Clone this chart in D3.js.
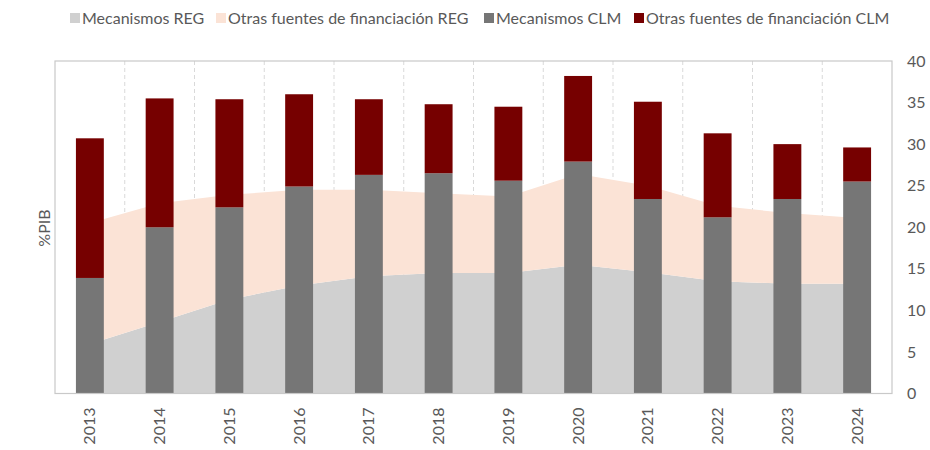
<!DOCTYPE html>
<html lang="es">
<head>
<meta charset="utf-8">
<title>Financiación REG / CLM</title>
<script src="https://cdn.jsdelivr.net/npm/d3@7"></script>
<style>
  body { margin: 0; background: #fff; }
  text { font-family: Lato, "Open Sans", sans-serif; fill: #595959; }
</style>
</head>
<body>
<div id="grafico"></div>
<script>
// datos (% PIB)
var years = ["2013","2014","2015","2016","2017","2018","2019","2020","2021","2022","2023","2024"];
var mecREG   = [5.95, 8.6, 11.3, 13.0, 14.1, 14.5, 14.5, 15.5, 14.6, 13.5, 13.2, 13.2];
var otrasREG = [14.55, 14.3, 12.6, 11.5, 10.4, 9.6, 9.2, 10.9, 10.4, 9.1, 8.5, 7.9];
var mecCLM   = [13.9, 20.0, 22.4, 24.9, 26.3, 26.5, 25.6, 27.9, 23.4, 21.2, 23.4, 25.5];
var otrasCLM = [16.8, 15.5, 13.0, 11.1, 9.1, 8.3, 8.9, 10.3, 11.7, 10.1, 6.6, 4.1];
var yTicks = [0, 5, 10, 15, 20, 25, 30, 35, 40];

var seriesNames = ["Mecanismos REG", "Otras fuentes de financiación REG", "Mecanismos CLM", "Otras fuentes de financiación CLM"];
var colores = ["#d0d0d0", "#fbe3d6", "#767676", "#760000"];

var W = 930, H = 450;
var plotL = 55, plotR = 892, plotT = 61, plotB = 393.5;

var svg = d3.select("#grafico").append("svg")
  .attr("width", W)
  .attr("height", H);

var x = d3.scaleBand().domain(years).range([plotL, plotR]).paddingInner(0.6).paddingOuter(0.3);
var y = d3.scaleLinear().domain([0, 40]).range([plotB, plotT]);

// tablas para d3.stack
var regRows = years.map(function(yr, i) { return {year: yr, a: mecREG[i], b: otrasREG[i]}; });
var clmRows = years.map(function(yr, i) { return {year: yr, a: mecCLM[i], b: otrasCLM[i]}; });
var stack = d3.stack().keys(["a", "b"]);
var regStack = stack(regRows);
var clmStack = stack(clmRows);

// lineas verticales discontinuas entre categorias
var step = x.step();
svg.append("g").selectAll("line")
  .data(years.slice(1))
  .enter().append("line")
  .attr("x1", function(d) { return x(d) - (step - x.bandwidth()) / 2; })
  .attr("x2", function(d) { return x(d) - (step - x.bandwidth()) / 2; })
  .attr("y1", plotT)
  .attr("y2", plotB)
  .attr("stroke", "#d9d9d9")
  .attr("stroke-width", 1)
  .attr("stroke-dasharray", "4,3");

// areas REG
var area = d3.area()
  .x(function(d) { return x(d.data.year) + x.bandwidth() / 2; })
  .y0(function(d) { return y(d[0]); })
  .y1(function(d) { return y(d[1]); });

svg.append("g").selectAll("path")
  .data(regStack)
  .enter().append("path")
  .attr("d", area)
  .attr("fill", function(d, i) { return colores[i]; });

// barras CLM
svg.append("g").selectAll("g")
  .data(clmStack)
  .enter().append("g")
  .attr("fill", function(d, i) { return colores[i + 2]; })
  .selectAll("rect")
  .data(function(d) { return d; })
  .enter().append("rect")
  .attr("x", function(d) { return x(d.data.year); })
  .attr("y", function(d) { return y(d[1]); })
  .attr("width", x.bandwidth())
  .attr("height", function(d) { return y(d[0]) - y(d[1]); });

// marco
svg.append("rect")
  .attr("x", plotL)
  .attr("y", plotT)
  .attr("width", plotR - plotL)
  .attr("height", plotB - plotT)
  .attr("fill", "none")
  .attr("stroke", "#c9c9c9")
  .attr("stroke-width", 1.2);

// eje Y (derecha)
var yAxis = svg.append("g")
  .attr("transform", "translate(" + (plotR + 15) + ",0)")
  .call(d3.axisRight(y).tickValues(yTicks).tickSize(0).tickPadding(0));
yAxis.select(".domain").remove();
yAxis.selectAll("text")
  .attr("font-size", "16px")
  .attr("font-family", "Lato, sans-serif")
  .attr("fill", "#595959");

// eje X (años en vertical)
var xAxis = svg.append("g")
  .attr("transform", "translate(0," + plotB + ")")
  .call(d3.axisBottom(x).tickSize(0));
xAxis.select(".domain").remove();
xAxis.selectAll("text")
  .attr("font-size", "16px")
  .attr("font-family", "Lato, sans-serif")
  .attr("fill", "#595959")
  .attr("text-anchor", "end")
  .attr("dy", "0.35em")
  .attr("transform", "translate(0,14) rotate(-90)")
  .attr("x", 0)
  .attr("y", 0);

// titulo eje Y
svg.append("text")
  .attr("transform", "translate(50,228) rotate(-90)")
  .attr("text-anchor", "middle")
  .attr("font-size", "16px")
  .text("%PIB");

// leyenda
var legX = [70, 216, 484, 634];
var leg = svg.append("g").selectAll("g")
  .data(seriesNames)
  .enter().append("g")
  .attr("transform", function(d, i) { return "translate(" + legX[i] + ",18)"; });
leg.append("rect")
  .attr("x", 0).attr("y", -5)
  .attr("width", 10).attr("height", 10)
  .attr("fill", function(d, i) { return colores[i]; });
leg.append("text")
  .attr("x", 12)
  .attr("dy", "0.35em")
  .attr("font-size", "16px")
  .text(function(d) { return d; });
</script>
</body>
</html>
